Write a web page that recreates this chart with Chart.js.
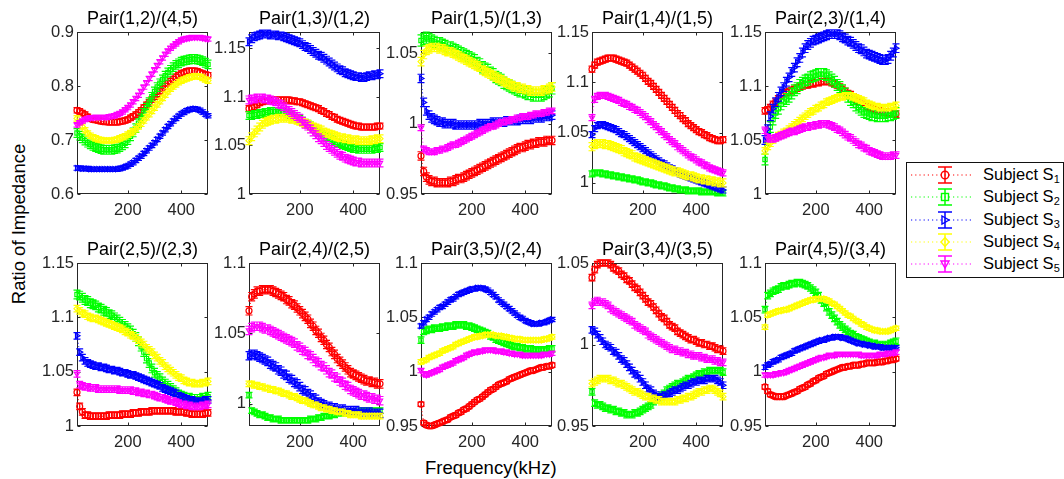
<!DOCTYPE html>
<html><head><meta charset="utf-8">
<script src="https://cdn.jsdelivr.net/npm/chart.js@4.4.1/dist/chart.umd.min.js"></script>
<style>
html,body{margin:0;padding:0;background:#fff;}
#wrap{position:relative;width:1064px;height:479px;overflow:hidden;font-family:"Liberation Sans",Arial,Helvetica,sans-serif;}
canvas{position:absolute;}
.lab{position:absolute;color:#000;font-size:18.5px;white-space:nowrap;line-height:20px;}
#legend{position:absolute;left:906px;top:162px;width:158px;height:116px;box-sizing:border-box;border:1px solid #111;background:#fff;}
#legend svg{position:absolute;left:0;top:0;}
.lt{position:absolute;left:76px;font-size:16.5px;line-height:18px;color:#000;white-space:nowrap;}
.lt sub{font-size:11px;vertical-align:-3px;line-height:0;}
</style></head>
<body><div id="wrap">
<div class="lab" id="ylab" style="left:19px;top:224px;transform:translate(-50%,-50%) rotate(-90deg);">Ratio of Impedance</div>
<div class="lab" id="xlab" style="left:425px;top:458px;">Frequency(kHz)</div>
<div id="legend"></div>
</div>
<script>
// ---------- DATA ----------
const FREQ = [10,20,30,40,50,60,70,80,90,100,110,120,130,140,150,160,170,180,190,200,
  210,220,230,240,250,260,270,280,290,300,310,320,330,340,350,360,370,380,390,400,
  410,420,430,440,450,460,470,480,490,500];
const SUBJECTS = ["S1","S2","S3","S4","S5"];
const TITLES = ["Pair(1,2)/(4,5)","Pair(1,3)/(1,2)","Pair(1,5)/(1,3)","Pair(1,4)/(1,5)","Pair(2,3)/(1,4)",
  "Pair(2,5)/(2,3)","Pair(2,4)/(2,5)","Pair(3,5)/(2,4)","Pair(3,4)/(3,5)","Pair(4,5)/(3,4)"];
const Y_MIN = [0.6, 1, 0.95, 0.989, 1, 1, 0.984, 0.95, 0.95, 0.95];
const Y_MAX = [0.9, 1.167, 1.065, 1.15, 1.15, 1.15, 1.1, 1.1, 1.05, 1.1];
const Y_TICKS = [[0.6,0.7,0.8,0.9],[1,1.05,1.1,1.15],[0.95,1,1.05],[1,1.05,1.1,1.15],[1,1.05,1.1,1.15],
  [1,1.05,1.1,1.15],[1,1.05,1.1],[0.95,1,1.05,1.1],[0.95,1,1.05],[0.95,1,1.05,1.1]];
const X_TICKS = [200,400];

const P1 = [
 [.755,.753,.750,.747,.743,.740,.738,.737,.736,.735,.734,.734,.733,.733,.733,.733,.734,.735,.736,.738,.741,.744,.747,.751,.755,.760,.765,.770,.775,.780,.785,.790,.795,.800,.805,.809,.813,.817,.820,.823,.825,.827,.828,.828,.828,.827,.825,.823,.821,.820],
 [.713,.708,.703,.699,.695,.692,.689,.687,.685,.683,.682,.682,.682,.682,.683,.684,.687,.690,.694,.700,.707,.714,.722,.731,.740,.750,.760,.770,.780,.790,.798,.805,.812,.819,.825,.830,.835,.839,.842,.845,.847,.848,.849,.850,.850,.849,.848,.846,.843,.840],
 [.648,.648,.647,.647,.647,.646,.646,.646,.646,.646,.646,.646,.646,.646,.646,.646,.647,.648,.650,.652,.655,.658,.662,.666,.670,.675,.680,.685,.690,.695,.701,.707,.713,.719,.725,.730,.735,.740,.744,.748,.751,.754,.756,.757,.758,.757,.755,.752,.748,.745],
 [.740,.732,.725,.718,.712,.708,.705,.703,.701,.700,.699,.699,.699,.699,.700,.701,.703,.705,.707,.710,.713,.716,.720,.725,.730,.736,.742,.748,.754,.760,.766,.772,.778,.784,.790,.795,.799,.803,.807,.810,.812,.814,.816,.817,.818,.818,.817,.815,.812,.810],
 [.728,.732,.735,.738,.740,.741,.741,.742,.742,.742,.742,.742,.743,.744,.745,.747,.749,.752,.756,.760,.765,.771,.777,.783,.790,.798,.806,.814,.822,.830,.838,.845,.852,.859,.865,.870,.874,.878,.882,.885,.887,.888,.889,.890,.890,.890,.890,.889,.888,.887]
];
const P2 = [
 [1.088,1.089,1.090,1.092,1.094,1.095,1.096,1.096,1.097,1.097,1.097,1.097,1.097,1.097,1.097,1.097,1.096,1.096,1.095,1.095,1.094,1.093,1.092,1.091,1.090,1.089,1.088,1.086,1.085,1.083,1.082,1.080,1.079,1.077,1.076,1.075,1.074,1.073,1.072,1.071,1.070,1.070,1.069,1.069,1.069,1.069,1.069,1.069,1.070,1.070],
 [1.081,1.081,1.082,1.082,1.083,1.083,1.084,1.084,1.085,1.085,1.085,1.085,1.084,1.084,1.083,1.082,1.081,1.080,1.078,1.077,1.075,1.073,1.072,1.070,1.068,1.066,1.064,1.063,1.061,1.059,1.058,1.056,1.055,1.053,1.052,1.051,1.050,1.049,1.048,1.047,1.047,1.046,1.046,1.046,1.046,1.046,1.046,1.047,1.047,1.048],
 [1.157,1.160,1.162,1.163,1.164,1.165,1.165,1.165,1.164,1.164,1.164,1.163,1.163,1.162,1.161,1.160,1.159,1.158,1.157,1.156,1.154,1.152,1.151,1.149,1.147,1.145,1.143,1.142,1.140,1.138,1.136,1.134,1.132,1.130,1.128,1.127,1.125,1.124,1.123,1.122,1.121,1.121,1.120,1.120,1.121,1.122,1.122,1.123,1.123,1.124],
 [1.055,1.059,1.063,1.066,1.069,1.072,1.074,1.075,1.076,1.077,1.077,1.078,1.078,1.078,1.078,1.078,1.077,1.077,1.076,1.075,1.074,1.073,1.072,1.070,1.069,1.068,1.067,1.066,1.064,1.063,1.062,1.061,1.060,1.059,1.058,1.058,1.057,1.057,1.056,1.056,1.056,1.055,1.055,1.055,1.055,1.055,1.056,1.056,1.057,1.057],
 [1.097,1.098,1.098,1.099,1.099,1.099,1.098,1.098,1.097,1.096,1.095,1.093,1.092,1.090,1.088,1.086,1.084,1.082,1.080,1.078,1.075,1.072,1.070,1.067,1.064,1.061,1.058,1.056,1.053,1.050,1.048,1.046,1.044,1.042,1.040,1.039,1.037,1.036,1.035,1.034,1.033,1.033,1.032,1.032,1.032,1.032,1.032,1.032,1.032,1.032]
];
const P3 = [
 [.977,.966,.962,.960,.959,.959,.958,.958,.958,.958,.958,.959,.959,.960,.961,.961,.962,.963,.964,.965,.966,.967,.968,.969,.970,.971,.972,.973,.974,.975,.976,.977,.978,.979,.980,.981,.982,.983,.983,.984,.985,.985,.986,.986,.987,.987,.987,.988,.988,.988],
 [1.059,1.060,1.061,1.060,1.059,1.058,1.057,1.057,1.056,1.055,1.054,1.054,1.053,1.052,1.051,1.050,1.049,1.048,1.047,1.046,1.045,1.043,1.042,1.040,1.039,1.038,1.036,1.035,1.033,1.032,1.031,1.029,1.028,1.027,1.026,1.025,1.024,1.023,1.023,1.022,1.021,1.021,1.020,1.020,1.020,1.020,1.021,1.022,1.023,1.025],
 [1.032,1.015,1.009,1.006,1.004,1.003,1.002,1.001,1.001,1.000,1.000,1.000,1.000,.999,.999,.999,.999,.999,.999,.999,.999,.999,1.000,1.000,1.000,1.000,1.000,1.001,1.001,1.001,1.001,1.001,1.002,1.002,1.002,1.002,1.002,1.003,1.003,1.003,1.003,1.003,1.004,1.004,1.004,1.004,1.005,1.005,1.005,1.006],
 [1.044,1.049,1.052,1.053,1.054,1.054,1.054,1.053,1.053,1.052,1.051,1.051,1.050,1.049,1.048,1.047,1.046,1.045,1.044,1.043,1.042,1.041,1.040,1.038,1.037,1.036,1.035,1.034,1.033,1.032,1.031,1.030,1.029,1.028,1.027,1.026,1.026,1.025,1.025,1.024,1.024,1.023,1.023,1.023,1.023,1.023,1.024,1.024,1.025,1.026],
 [.997,.982,.981,.980,.980,.980,.981,.981,.982,.982,.983,.984,.985,.985,.986,.987,.988,.989,.990,.991,.992,.993,.994,.995,.996,.997,.998,.998,.999,1.000,1.001,1.001,1.002,1.002,1.003,1.003,1.004,1.004,1.005,1.005,1.005,1.006,1.006,1.007,1.007,1.007,1.008,1.008,1.009,1.009]
];
const P4 = [
 [1.113,1.117,1.120,1.121,1.122,1.123,1.124,1.124,1.124,1.123,1.122,1.121,1.120,1.119,1.117,1.115,1.113,1.111,1.109,1.107,1.104,1.101,1.099,1.096,1.093,1.090,1.087,1.084,1.081,1.078,1.075,1.072,1.069,1.067,1.064,1.062,1.059,1.057,1.055,1.053,1.051,1.050,1.048,1.047,1.045,1.044,1.043,1.042,1.042,1.043],
 [1.009,1.010,1.010,1.010,1.009,1.009,1.008,1.008,1.007,1.007,1.006,1.006,1.005,1.005,1.004,1.004,1.003,1.003,1.002,1.001,1.001,1.000,1.000,.999,.998,.998,.997,.997,.996,.995,.995,.994,.994,.993,.993,.993,.992,.992,.992,.992,.992,.991,.991,.991,.991,.991,.991,.990,.990,.990],
 [1.048,1.054,1.057,1.058,1.058,1.057,1.056,1.055,1.054,1.053,1.051,1.049,1.048,1.046,1.044,1.042,1.040,1.038,1.036,1.034,1.032,1.030,1.028,1.026,1.024,1.022,1.020,1.019,1.017,1.015,1.014,1.012,1.011,1.009,1.008,1.007,1.006,1.005,1.004,1.003,1.002,1.001,1.000,.999,.998,.997,.996,.995,.994,.993],
 [1.036,1.038,1.039,1.039,1.039,1.038,1.038,1.037,1.036,1.035,1.034,1.033,1.031,1.030,1.029,1.028,1.026,1.025,1.024,1.023,1.022,1.021,1.020,1.019,1.018,1.017,1.016,1.015,1.014,1.013,1.012,1.011,1.011,1.010,1.009,1.008,1.007,1.007,1.006,1.005,1.004,1.004,1.003,1.003,1.002,1.002,1.001,1.001,1.000,1.000],
 [1.065,1.083,1.086,1.087,1.087,1.087,1.086,1.085,1.084,1.083,1.082,1.080,1.079,1.078,1.076,1.075,1.073,1.072,1.070,1.068,1.066,1.063,1.061,1.058,1.056,1.053,1.051,1.048,1.046,1.043,1.041,1.039,1.036,1.034,1.032,1.030,1.028,1.026,1.025,1.023,1.021,1.020,1.018,1.017,1.015,1.014,1.013,1.012,1.011,1.010]
];
const P5 = [
 [1.077,1.078,1.080,1.083,1.085,1.088,1.091,1.093,1.094,1.095,1.096,1.097,1.098,1.099,1.100,1.101,1.101,1.102,1.102,1.103,1.103,1.104,1.104,1.104,1.104,1.103,1.102,1.101,1.099,1.097,1.095,1.093,1.092,1.090,1.088,1.086,1.085,1.083,1.081,1.080,1.079,1.078,1.077,1.077,1.076,1.076,1.075,1.075,1.074,1.074],
 [1.032,1.050,1.062,1.069,1.075,1.079,1.083,1.086,1.088,1.090,1.093,1.096,1.098,1.101,1.103,1.105,1.106,1.108,1.109,1.110,1.111,1.111,1.111,1.110,1.108,1.106,1.104,1.101,1.099,1.096,1.093,1.090,1.087,1.085,1.082,1.080,1.078,1.076,1.075,1.074,1.073,1.073,1.072,1.072,1.072,1.072,1.073,1.073,1.074,1.075],
 [1.050,1.060,1.072,1.079,1.085,1.090,1.095,1.099,1.104,1.108,1.113,1.117,1.122,1.126,1.131,1.135,1.138,1.140,1.142,1.143,1.144,1.145,1.146,1.147,1.148,1.148,1.148,1.148,1.147,1.145,1.144,1.142,1.141,1.139,1.137,1.135,1.134,1.132,1.130,1.129,1.128,1.127,1.126,1.125,1.124,1.124,1.125,1.128,1.131,1.135],
 [1.040,1.044,1.047,1.050,1.052,1.054,1.055,1.057,1.058,1.060,1.062,1.064,1.066,1.068,1.070,1.072,1.074,1.076,1.077,1.079,1.080,1.082,1.083,1.085,1.086,1.087,1.088,1.089,1.090,1.090,1.091,1.091,1.091,1.090,1.089,1.088,1.087,1.086,1.084,1.083,1.082,1.081,1.081,1.080,1.080,1.080,1.080,1.081,1.081,1.082],
 [1.059,1.052,1.051,1.051,1.052,1.053,1.054,1.055,1.056,1.057,1.058,1.058,1.059,1.060,1.061,1.062,1.062,1.063,1.063,1.064,1.064,1.065,1.065,1.065,1.064,1.063,1.062,1.060,1.059,1.057,1.055,1.053,1.052,1.050,1.048,1.046,1.045,1.043,1.042,1.040,1.039,1.038,1.037,1.036,1.035,1.035,1.035,1.035,1.036,1.036]
];
const P6 = [
 [1.031,1.018,1.013,1.010,1.010,1.009,1.009,1.009,1.009,1.009,1.009,1.009,1.010,1.010,1.010,1.010,1.010,1.011,1.011,1.011,1.011,1.012,1.012,1.012,1.013,1.013,1.013,1.013,1.014,1.014,1.014,1.014,1.014,1.014,1.014,1.014,1.014,1.013,1.013,1.013,1.013,1.012,1.012,1.011,1.011,1.011,1.011,1.011,1.012,1.012],
 [1.121,1.120,1.118,1.116,1.115,1.113,1.112,1.111,1.109,1.108,1.106,1.105,1.103,1.102,1.100,1.098,1.096,1.094,1.092,1.090,1.088,1.085,1.082,1.078,1.073,1.068,1.062,1.058,1.053,1.049,1.046,1.044,1.041,1.039,1.037,1.035,1.033,1.031,1.029,1.028,1.027,1.026,1.026,1.025,1.025,1.025,1.025,1.026,1.026,1.027],
 [1.083,1.068,1.063,1.060,1.058,1.057,1.056,1.055,1.055,1.054,1.054,1.053,1.052,1.052,1.051,1.051,1.050,1.049,1.049,1.048,1.047,1.047,1.046,1.045,1.044,1.043,1.042,1.041,1.040,1.039,1.038,1.037,1.035,1.034,1.033,1.032,1.031,1.030,1.028,1.027,1.026,1.025,1.024,1.024,1.023,1.023,1.023,1.023,1.024,1.024],
 [1.108,1.106,1.104,1.103,1.101,1.100,1.099,1.099,1.098,1.097,1.096,1.095,1.094,1.093,1.092,1.091,1.090,1.089,1.087,1.086,1.084,1.083,1.081,1.079,1.077,1.075,1.072,1.070,1.068,1.065,1.063,1.060,1.058,1.055,1.053,1.051,1.049,1.047,1.045,1.044,1.042,1.041,1.040,1.040,1.039,1.039,1.039,1.040,1.040,1.041],
 [1.048,1.038,1.037,1.036,1.036,1.035,1.035,1.035,1.034,1.034,1.034,1.034,1.034,1.034,1.034,1.034,1.033,1.033,1.033,1.033,1.033,1.032,1.032,1.031,1.031,1.030,1.030,1.029,1.029,1.028,1.027,1.026,1.026,1.025,1.024,1.023,1.023,1.022,1.021,1.020,1.020,1.019,1.019,1.018,1.018,1.018,1.018,1.019,1.019,1.020]
];
const P7 = [
 [1.066,1.076,1.078,1.080,1.080,1.081,1.081,1.081,1.081,1.080,1.079,1.078,1.077,1.076,1.074,1.073,1.071,1.070,1.068,1.066,1.064,1.062,1.060,1.057,1.055,1.052,1.050,1.047,1.045,1.042,1.040,1.037,1.035,1.032,1.030,1.028,1.026,1.024,1.022,1.021,1.020,1.019,1.018,1.017,1.016,1.016,1.015,1.015,1.014,1.014],
 [1.006,.995,.994,.993,.992,.992,.991,.990,.990,.989,.989,.989,.988,.988,.988,.988,.988,.988,.988,.988,.988,.988,.988,.989,.989,.989,.990,.990,.991,.991,.991,.992,.992,.993,.993,.993,.993,.994,.994,.994,.994,.994,.995,.995,.995,.995,.995,.995,.995,.995],
 [1.034,1.035,1.035,1.034,1.033,1.032,1.031,1.030,1.028,1.027,1.026,1.024,1.023,1.021,1.020,1.018,1.017,1.015,1.014,1.012,1.010,1.009,1.007,1.006,1.004,1.003,1.001,1.000,.999,.998,.998,.997,.997,.996,.996,.996,.995,.995,.995,.995,.995,.994,.994,.994,.994,.994,.993,.993,.993,.993],
 [1.014,1.014,1.013,1.013,1.012,1.012,1.011,1.011,1.010,1.010,1.009,1.009,1.008,1.007,1.007,1.006,1.005,1.005,1.004,1.003,1.002,1.002,1.001,1.000,.999,.999,.998,.997,.997,.996,.996,.995,.995,.994,.994,.994,.993,.993,.992,.992,.992,.992,.991,.991,.991,.991,.991,.991,.991,.991],
 [1.052,1.054,1.055,1.055,1.055,1.054,1.053,1.053,1.052,1.051,1.050,1.049,1.048,1.047,1.046,1.045,1.044,1.043,1.041,1.040,1.038,1.037,1.035,1.034,1.032,1.030,1.029,1.027,1.026,1.024,1.022,1.021,1.019,1.018,1.016,1.015,1.013,1.012,1.010,1.009,1.008,1.007,1.006,1.006,1.005,1.004,1.004,1.003,1.003,1.002]
];
const P8 = [
 [.970,.953,.951,.950,.950,.951,.952,.953,.954,.955,.956,.958,.959,.960,.962,.963,.965,.966,.968,.970,.972,.974,.975,.977,.979,.981,.983,.984,.986,.988,.989,.990,.991,.993,.994,.995,.996,.997,.998,.999,1.000,1.001,1.001,1.002,1.003,1.004,1.004,1.005,1.005,1.006],
 [1.029,1.037,1.038,1.039,1.039,1.040,1.040,1.040,1.041,1.041,1.042,1.042,1.042,1.043,1.043,1.043,1.043,1.042,1.042,1.041,1.040,1.039,1.038,1.037,1.036,1.035,1.033,1.032,1.030,1.029,1.028,1.027,1.026,1.025,1.024,1.023,1.023,1.022,1.022,1.021,1.021,1.021,1.020,1.020,1.020,1.020,1.020,1.020,1.021,1.021],
 [1.042,1.045,1.048,1.050,1.053,1.055,1.057,1.059,1.060,1.062,1.064,1.066,1.067,1.069,1.071,1.072,1.073,1.074,1.075,1.076,1.076,1.077,1.077,1.077,1.076,1.075,1.073,1.071,1.069,1.066,1.064,1.062,1.060,1.058,1.056,1.054,1.052,1.050,1.049,1.047,1.046,1.045,1.044,1.044,1.044,1.045,1.045,1.046,1.047,1.048],
 [1.009,1.010,1.011,1.013,1.014,1.015,1.016,1.017,1.019,1.020,1.021,1.022,1.023,1.025,1.026,1.027,1.028,1.029,1.030,1.031,1.032,1.032,1.033,1.033,1.034,1.034,1.034,1.034,1.033,1.033,1.033,1.032,1.032,1.031,1.031,1.030,1.030,1.030,1.029,1.029,1.029,1.029,1.029,1.029,1.029,1.029,1.030,1.030,1.031,1.032],
 [1.001,.998,.997,.998,.999,1.000,1.001,1.002,1.004,1.005,1.006,1.007,1.008,1.010,1.011,1.012,1.013,1.015,1.016,1.017,1.018,1.018,1.019,1.019,1.020,1.020,1.020,1.020,1.019,1.019,1.019,1.018,1.018,1.017,1.017,1.016,1.016,1.016,1.015,1.015,1.015,1.015,1.015,1.015,1.015,1.015,1.016,1.016,1.016,1.017]
];
const P9 = [
 [1.041,1.046,1.049,1.050,1.050,1.050,1.050,1.049,1.047,1.046,1.045,1.043,1.042,1.040,1.039,1.037,1.035,1.034,1.032,1.030,1.028,1.026,1.025,1.023,1.021,1.019,1.017,1.016,1.014,1.012,1.011,1.010,1.008,1.007,1.006,1.005,1.004,1.003,1.003,1.002,1.001,1.001,1.000,1.000,.999,.999,.998,.997,.997,.996],
 [.971,.964,.963,.963,.962,.961,.961,.960,.960,.959,.959,.958,.958,.957,.957,.957,.958,.958,.959,.960,.961,.962,.963,.965,.966,.967,.969,.970,.972,.973,.974,.975,.976,.976,.977,.978,.979,.979,.980,.981,.982,.982,.983,.983,.984,.984,.984,.984,.984,.983],
 [1.009,1.008,1.006,1.004,1.002,1.000,.999,.998,.996,.995,.993,.991,.990,.988,.986,.984,.982,.981,.979,.977,.975,.973,.972,.970,.969,.968,.968,.969,.969,.970,.971,.972,.972,.973,.974,.975,.975,.976,.977,.977,.978,.978,.978,.979,.979,.979,.979,.978,.977,.975],
 [.976,.977,.978,.979,.979,.979,.979,.978,.978,.977,.976,.976,.975,.974,.973,.972,.971,.971,.970,.969,.968,.968,.967,.967,.966,.966,.965,.965,.965,.965,.965,.965,.966,.966,.967,.967,.968,.968,.969,.970,.971,.971,.972,.972,.973,.973,.972,.971,.970,.968],
 [1.024,1.026,1.027,1.026,1.026,1.025,1.024,1.022,1.021,1.020,1.019,1.018,1.017,1.016,1.015,1.014,1.012,1.011,1.010,1.009,1.008,1.006,1.005,1.004,1.003,1.002,1.001,1.000,.999,.998,.997,.997,.996,.996,.995,.995,.994,.994,.993,.993,.993,.992,.992,.991,.991,.991,.990,.990,.989,.989]
];
const P10 = [
 [.986,.982,.979,.978,.977,.977,.977,.977,.978,.979,.980,.981,.982,.984,.985,.986,.988,.989,.991,.992,.994,.995,.996,.998,.999,1.000,1.001,1.002,1.003,1.004,1.004,1.005,1.005,1.006,1.006,1.006,1.007,1.007,1.008,1.008,1.008,1.008,1.009,1.009,1.009,1.010,1.010,1.011,1.011,1.012],
 [1.057,1.070,1.072,1.074,1.075,1.076,1.078,1.079,1.079,1.080,1.081,1.081,1.082,1.082,1.081,1.080,1.079,1.077,1.075,1.073,1.070,1.066,1.063,1.059,1.055,1.052,1.049,1.046,1.043,1.041,1.039,1.037,1.035,1.034,1.032,1.031,1.030,1.029,1.028,1.027,1.026,1.026,1.025,1.025,1.025,1.025,1.025,1.026,1.027,1.028],
 [1.004,1.006,1.007,1.009,1.010,1.011,1.013,1.014,1.015,1.016,1.017,1.019,1.020,1.021,1.022,1.023,1.024,1.025,1.026,1.027,1.028,1.029,1.029,1.030,1.031,1.031,1.032,1.032,1.032,1.031,1.031,1.030,1.029,1.028,1.027,1.026,1.026,1.025,1.025,1.024,1.024,1.023,1.023,1.023,1.022,1.022,1.022,1.022,1.022,1.022],
 [1.041,1.052,1.053,1.054,1.055,1.056,1.056,1.057,1.057,1.058,1.059,1.060,1.061,1.062,1.063,1.064,1.065,1.066,1.066,1.067,1.067,1.067,1.067,1.066,1.065,1.063,1.062,1.060,1.058,1.056,1.054,1.052,1.051,1.049,1.047,1.046,1.044,1.043,1.041,1.040,1.039,1.038,1.038,1.037,1.037,1.037,1.037,1.038,1.039,1.040],
 [.997,.997,.997,.997,.998,.998,.999,.999,1.000,1.001,1.002,1.003,1.004,1.005,1.006,1.007,1.008,1.009,1.010,1.011,1.012,1.013,1.013,1.014,1.015,1.015,1.015,1.016,1.016,1.016,1.016,1.016,1.016,1.016,1.016,1.016,1.015,1.015,1.015,1.015,1.015,1.015,1.015,1.016,1.016,1.016,1.017,1.017,1.017,1.018]
];
// error-bar half widths per subject for each panel
const ERR1 = [0.005,0.008,0.004,0.005,0.004];
const ERR2 = [0.003,0.004,0.004,0.004,0.004];
const ERR3 = [0.003,0.004,0.003,0.003,0.002];
const ERR4 = [0.003,0.003,0.003,0.004,0.003];
const ERR5 = [0.003,0.005,0.004,0.003,0.003];
const ERR6 = [0.003,0.004,0.003,0.003,0.003];
const ERR7 = [0.003,0.002,0.003,0.002,0.003];
const ERR8 = [0.002,0.003,0.002,0.002,0.002];
const ERR9 = [0.002,0.002,0.002,0.002,0.002];
const ERR10 = [0.002,0.003,0.002,0.002,0.002];

// ---------- STYLE / LAYOUT ----------
const PANELS = [P1,P2,P3,P4,P5,P6,P7,P8,P9,P10];
const ERRS = [ERR1,ERR2,ERR3,ERR4,ERR5,ERR6,ERR7,ERR8,ERR9,ERR10];
const COLORS = ["#ff0000","#00ff00","#0000ff","#ffff00","#ff00ff"];
const MARK = [{s:'circle',r:0},{s:'rect',r:0},{s:'triangle',r:90},{s:'rectRot',r:0},{s:'triangle',r:180}];
const FONT = '"Liberation Sans", Arial, Helvetica, sans-serif';
const PLOT_LEFT = [77,249,421,592,765];
const PLOT_W = 131, YAXW = 50, XAXH = 30, TOPBLOCK = 32, PADR = 10;
const ROW_TOP = [0,231], ROW_H = [162,163];

const framePlugin = {
  id:'frame',
  beforeDatasetsDraw(chart){
    const {ctx, chartArea:a, scales:{x,y}} = chart;
    ctx.save();
    ctx.strokeStyle = '#262626'; ctx.lineWidth = 1;
    const L = Math.round(a.left)+0.5, R = Math.round(a.right)-0.5, T = Math.round(a.top)+0.5, B = Math.round(a.bottom)-0.5;
    ctx.strokeRect(L, T, R-L, B-T);
    const tl = 3;
    ctx.beginPath();
    x.ticks.forEach(t=>{const p=Math.round(x.getPixelForValue(t.value))+0.5; ctx.moveTo(p,B); ctx.lineTo(p,B-tl); ctx.moveTo(p,T); ctx.lineTo(p,T+tl);});
    y.ticks.forEach(t=>{const p=Math.round(y.getPixelForValue(t.value))+0.5; ctx.moveTo(L,p); ctx.lineTo(L+tl,p); ctx.moveTo(R,p); ctx.lineTo(R-tl,p);});
    ctx.stroke();
    ctx.restore();
  }
};
const errPlugin = {
  id:'errbars',
  afterDatasetDraw(chart, args){
    const ds = chart.data.datasets[args.index];
    const y = chart.scales.y, ctx = chart.ctx;
    ctx.save();
    ctx.strokeStyle = ds.borderColor; ctx.lineWidth = 1.2;
    ctx.beginPath();
    args.meta.data.forEach((pt,i)=>{
      const v = ds.data[i].y;
      const px = pt.x;
      const y1 = y.getPixelForValue(v + ds.err);
      const y2 = y.getPixelForValue(v - ds.err);
      ctx.moveTo(px,y1); ctx.lineTo(px,y2);
      ctx.moveTo(px-3.5,y1); ctx.lineTo(px+3.5,y1);
      ctx.moveTo(px-3.5,y2); ctx.lineTo(px+3.5,y2);
    });
    ctx.stroke();
    ctx.restore();
  }
};
const fmt = v => String(Number(v.toFixed(3)));

const wrap = document.getElementById('wrap');
PANELS.forEach((panel, p)=>{
  const row = Math.floor(p/5), col = p%5;
  const cv = document.createElement('canvas');
  const w = YAXW + PLOT_W + PADR, h = TOPBLOCK + ROW_H[row] + XAXH;
  cv.width = w; cv.height = h;
  cv.style.left = (PLOT_LEFT[col]-YAXW)+'px'; cv.style.top = ROW_TOP[row]+'px';
  cv.style.width = w+'px'; cv.style.height = h+'px';
  wrap.appendChild(cv);
  const datasets = panel.map((vals, s)=>({
    label: 'Subject '+SUBJECTS[s],
    data: vals.map((v,i)=>({x:FREQ[i], y:v})),
    err: ERRS[p][s],
    borderColor: COLORS[s], backgroundColor: 'rgba(0,0,0,0)',
    borderWidth: 1, borderDash: [1,2.5],
    pointStyle: MARK[s].s, rotation: MARK[s].r,
    pointRadius: 3, pointBorderWidth: 1.2, pointBorderColor: COLORS[s], pointBackgroundColor: 'rgba(0,0,0,0)',
    pointHoverRadius: 3,
    tension: 0, clip: false, order: 4 - s
  }));
  new Chart(cv, {
    type: 'line',
    data: {datasets},
    options: {
      responsive: false, animation: false, devicePixelRatio: 1,
      events: [],
      layout: {padding: {top: 9, right: PADR, left: 0, bottom: 0}},
      plugins: {
        legend: {display: false}, tooltip: {enabled: false},
        title: {display: true, text: TITLES[p], fullSize: false, color: '#000',
          font: {family: FONT, size: 18, weight: 'normal', lineHeight: '20px'}, padding: {top: 0, bottom: 3}}
      },
      scales: {
        x: {type: 'linear', min: 10, max: 500,
          grid: {display: false, drawTicks: false}, border: {display: false},
          ticks: {color: '#262626', font: {family: FONT, size: 16.5}, padding: 7, autoSkip: false, maxRotation: 0, callback: v => fmt(v)},
          afterBuildTicks: s => { s.ticks = X_TICKS.map(v => ({value: v})); },
          afterFit: s => { s.height = XAXH; }
        },
        y: {type: 'linear', min: Y_MIN[p], max: Y_MAX[p],
          grid: {display: false, drawTicks: false}, border: {display: false},
          ticks: {color: '#262626', font: {family: FONT, size: 16.5}, padding: 3, autoSkip: false, callback: v => fmt(v)},
          afterBuildTicks: s => { s.ticks = Y_TICKS[p].map(v => ({value: v})); },
          afterFit: s => { s.width = YAXW; }
        }
      }
    },
    plugins: [framePlugin, errPlugin]
  });
});

// ---------- LEGEND (HTML + SVG symbols) ----------
const leg = document.getElementById('legend');
const ROWY = [12, 34, 57, 79, 101];
let svg = '<svg width="158" height="116" xmlns="http://www.w3.org/2000/svg">';
SUBJECTS.forEach((s,i)=>{
  const c = COLORS[i], y = ROWY[i], cx = 38;
  svg += `<line x1="4" y1="${y}" x2="66" y2="${y}" stroke="${c}" stroke-width="1.2" stroke-dasharray="1.2 3"/>`;
  svg += `<line x1="${cx}" y1="${y-8}" x2="${cx}" y2="${y+8}" stroke="${c}" stroke-width="1.5"/>`;
  svg += `<line x1="${cx-7}" y1="${y-8}" x2="${cx+7}" y2="${y-8}" stroke="${c}" stroke-width="1.5"/>`;
  svg += `<line x1="${cx-7}" y1="${y+8}" x2="${cx+7}" y2="${y+8}" stroke="${c}" stroke-width="1.5"/>`;
  let m = '';
  if (i===0) m = `<circle cx="${cx}" cy="${y}" r="3.8" fill="none" stroke="${c}" stroke-width="1.4"/>`;
  if (i===1) m = `<rect x="${cx-3.5}" y="${y-3.5}" width="7" height="7" fill="none" stroke="${c}" stroke-width="1.4"/>`;
  if (i===2) m = `<polygon points="${cx-3},${y-4} ${cx+4},${y} ${cx-3},${y+4}" fill="none" stroke="${c}" stroke-width="1.4"/>`;
  if (i===3) m = `<polygon points="${cx},${y-4.5} ${cx+4},${y} ${cx},${y+4.5} ${cx-4},${y}" fill="none" stroke="${c}" stroke-width="1.4"/>`;
  if (i===4) m = `<polygon points="${cx-4},${y-3} ${cx+4},${y-3} ${cx},${y+4}" fill="none" stroke="${c}" stroke-width="1.4"/>`;
  svg += m;
});
svg += '</svg>';
let html = svg;
SUBJECTS.forEach((s,i)=>{
  html += `<div class="lt" style="top:${ROWY[i]-10}px">Subject S<sub>${i+1}</sub></div>`;
});
leg.innerHTML = html;
</script>
</body></html>
